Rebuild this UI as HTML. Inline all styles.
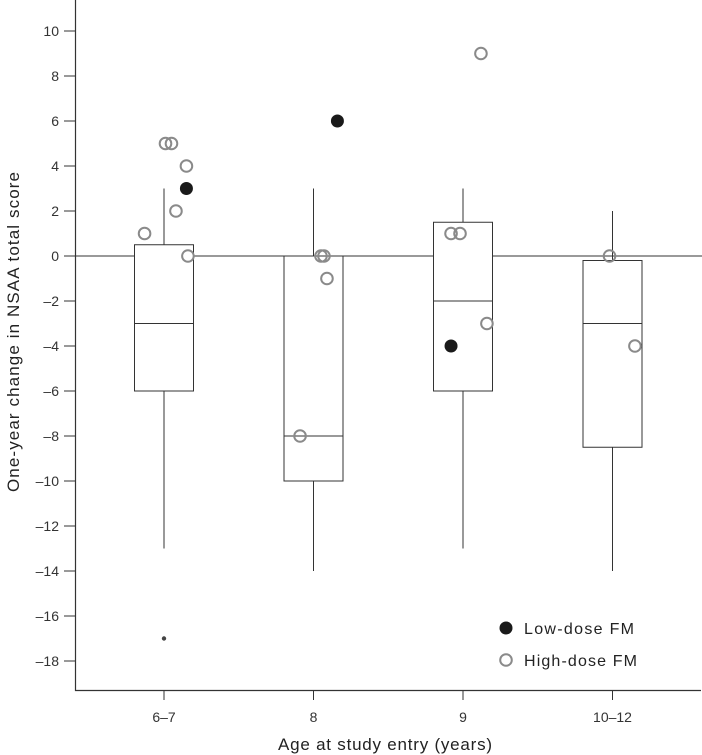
<!DOCTYPE html>
<html><head><meta charset="utf-8"><style>
body{margin:0;background:#fff}
svg{display:block;font-family:"Liberation Sans",sans-serif}
</style></head><body>
<svg id="c" width="702" height="755"></svg>
<script>
const categories=["6–7","8","9","10–12"];
const whiskerLow=[-13,-14,-13,-14];
const q1=[-6,-10,-6,-8.5];
const medians=[-3,-8,-2,-3];
const q3=[0.5,0,1.5,-0.2];
const whiskerHigh=[3,3,3,2];
const outliers=[[0,-17]];
// [categoryIndex, jitter (category units), value]
const highDose=[[0,-0.13,1],[0,0.01,5],[0,0.05,5],[0,0.15,4],[0,0.08,2],[0,0.16,0],
[1,0.05,0],[1,0.07,0],[1,0.09,-1],[1,-0.09,-8],
[2,0.12,9],[2,-0.08,1],[2,-0.02,1],[2,0.16,-3],
[3,-0.02,0],[3,0.15,-4]];
const lowDose=[[0,0.15,3],[1,0.16,6],[2,-0.08,-4]];
const yTicks=[10,8,6,4,2,0,-2,-4,-6,-8,-10,-12,-14,-16,-18];
const NS="http://www.w3.org/2000/svg";
const svg=document.getElementById('c');
const y=v=>256-v*22.5;
const x=i=>164+i*149.5;
function el(t,a,p){const e=document.createElementNS(NS,t);for(const k in a)e.setAttribute(k,a[k]);(p||svg).appendChild(e);return e;}
const frame=el('path',{d:'M75.5,0 V690.5 H701',fill:'none',stroke:'#333','stroke-width':1.2});


const zl=el('line',{x1:75,x2:702,y1:y(0),y2:y(0),stroke:'#333','stroke-width':1});


yTicks.forEach(v=>{
 const g=el('g',{});
 
 
 el('line',{x1:64,x2:75,y1:y(v),y2:y(v),stroke:'#333'},g);
 const t=el('text',{x:59,y:y(v)+5,'text-anchor':'end','font-size':14,fill:'#333'},g);
 t.textContent=v<0?'–'+Math.abs(v):v;
});
categories.forEach((c,i)=>{
 const g=el('g',{});
 
 
 el('line',{x1:x(i),x2:x(i),y1:690,y2:700,stroke:'#333'},g);
 const t=el('text',{x:x(i),y:722,'text-anchor':'middle','font-size':14,fill:'#333'},g);
 t.textContent=c;
 const b=el('g',{fill:'none',stroke:'#333','stroke-width':1});
 
 
 el('line',{x1:x(i),x2:x(i),y1:y(whiskerLow[i]),y2:y(q1[i])},b);
 el('line',{x1:x(i),x2:x(i),y1:y(q3[i]),y2:y(whiskerHigh[i])},b);
 el('rect',{x:x(i)-29.5,y:y(q3[i]),width:59,height:y(q1[i])-y(q3[i]),fill:'#fff'},b);
 el('line',{x1:x(i)-29.5,x2:x(i)+29.5,y1:y(medians[i]),y2:y(medians[i])},b);
});
outliers.forEach(o=>{const c=el('circle',{cx:x(o[0]),cy:y(o[1]),r:2.2,fill:'#444'});
 
 });
highDose.forEach(p=>{const c=el('circle',{cx:x(p[0])+p[1]*149.5,cy:y(p[2]),r:5.8,fill:'none',stroke:'#8a8a8a','stroke-width':2});
 
 });
lowDose.forEach(p=>{const c=el('circle',{cx:x(p[0])+p[1]*149.5,cy:y(p[2]),r:6.5,fill:'#1a1a1a'});
 
 });
const l1=el('g',{});


el('circle',{cx:506,cy:628,r:6.5,fill:'#1a1a1a'},l1);
let t=el('text',{x:524,y:634,'font-size':16,fill:'#222',textLength:110},l1);t.textContent='Low-dose FM';
const l2=el('g',{});


el('circle',{cx:506,cy:660,r:5.8,fill:'none',stroke:'#8a8a8a','stroke-width':2},l2);
t=el('text',{x:524,y:666,'font-size':16,fill:'#222',textLength:113},l2);t.textContent='High-dose FM';
t=el('text',{x:278,y:750,'font-size':17,fill:'#222',textLength:214});


t.textContent='Age at study entry (years)';
t=el('text',{x:0,y:0,'font-size':17,fill:'#222',textLength:320,transform:'translate(19,492) rotate(-90)'});


t.textContent='One-year change in NSAA total score';
</script>
</body></html>
